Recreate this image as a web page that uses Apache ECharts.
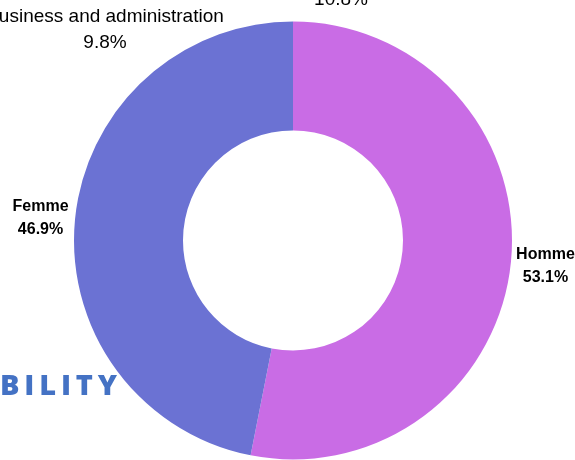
<!DOCTYPE html>
<html>
<head>
<meta charset="utf-8">
<script src="https://cdn.jsdelivr.net/npm/echarts@6/dist/echarts.min.js"></script>
<style>
  html, body { margin: 0; padding: 0; background: #ffffff; }
  #chart { width: 575px; height: 460px; }
</style>
</head>
<body>
<div id="chart"></div>
<script>
// Gender split of respondents
const categories = ['Homme', 'Femme'];
const shares = [53.1, 46.9];
const sliceColors = ['#c96ce5', '#6b72d3'];

// Neighbouring labels from the surrounding figure
const sideLabel = 'Business and administration';
const sideValue = '9.8%';
const topValue = '10.8%';
const banner = 'BILITY';

// Vertical nudge (px) for each slice's outside label
const labelShift = [4, -1];

const chart = echarts.init(document.getElementById('chart'), null, { renderer: 'canvas' });

const labelFont = {
  fontFamily: 'Liberation Sans, Arial, sans-serif',
  fontWeight: 'bold',
  fontSize: 16,
  lineHeight: 23,
  color: '#000000'
};

chart.setOption({
  animation: false,
  backgroundColor: '#ffffff',
  color: sliceColors,
  series: [{
    type: 'pie',
    center: [293, 240.5],
    radius: [110, 219],
    startAngle: 90,
    clockwise: true,
    avoidLabelOverlap: false,
    silent: true,
    label: Object.assign({
      show: true,
      position: 'outside',
      formatter: p => '{c|' + p.name + '}\n{c|' + p.value.toFixed(1) + '%}',
      distanceToLabelLine: 5,
      rich: {
        c: Object.assign({ width: 59, align: 'center' }, labelFont)
      }
    }, labelFont),
    labelLine: { show: false, length: 0, length2: 0 },
    labelLayout: p => ({ dy: labelShift[p.dataIndex] }),
    itemStyle: { borderWidth: 0 },
    data: categories.map((c, i) => ({ name: c, value: shares[i] }))
  }],
  graphic: [
    {
      type: 'text',
      x: 105, y: 30,
      style: {
        text: sideLabel + '\n' + sideValue,
        align: 'center',
        verticalAlign: 'middle',
        fontFamily: 'Liberation Sans, Arial, sans-serif',
        fontSize: 19,
        lineHeight: 26,
        fill: '#000000'
      }
    },
    {
      type: 'text',
      x: 341, y: 0,
      style: {
        text: topValue,
        align: 'center',
        verticalAlign: 'middle',
        fontFamily: 'Liberation Sans, Arial, sans-serif',
        fontSize: 19,
        fill: '#000000'
      }
    },
    {
      type: 'text',
      x: 0, y: 387,
      style: {
        text: banner.split('').join('\u2009'),
        align: 'left',
        verticalAlign: 'middle',
        fontFamily: 'Open Sans, Liberation Sans, sans-serif',
        fontWeight: 800,
        fontSize: 29,
        fill: '#4472c4'
      }
    }
  ]
});
</script>
</body>
</html>
